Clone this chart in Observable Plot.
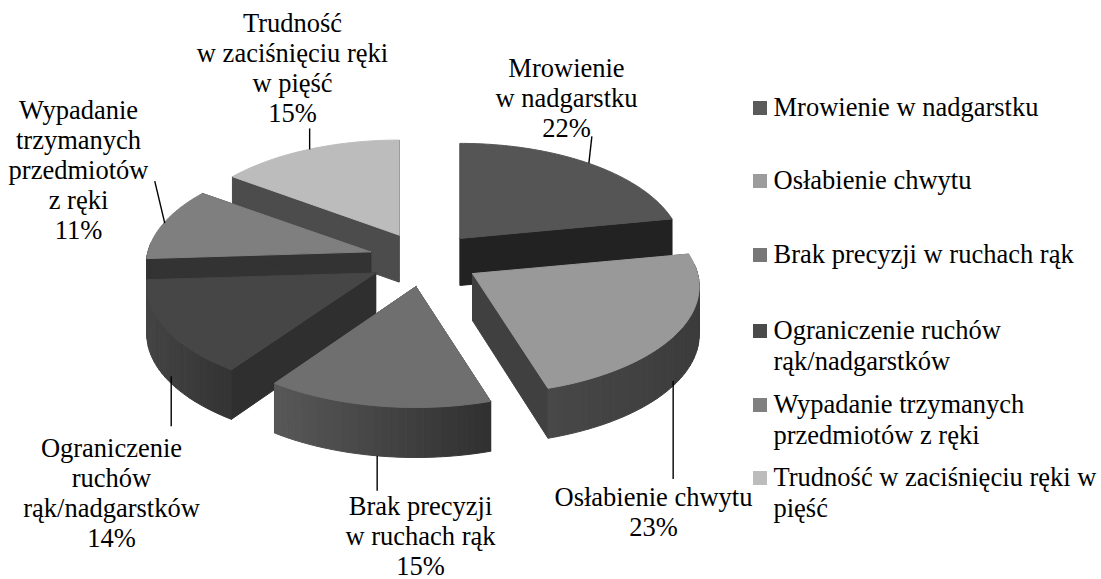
<!DOCTYPE html>
<html><head><meta charset="utf-8">
<style>html,body{margin:0;padding:0;background:#fff}svg{display:block}</style>
<script src="https://cdn.jsdelivr.net/npm/d3@7"></script>
<script src="https://cdn.jsdelivr.net/npm/@observablehq/plot@0.6"></script>
</head><body><script>
// Data
const categories = ["Mrowienie w nadgarstku","Osłabienie chwytu","Brak precyzji w ruchach rąk","Ograniczenie ruchów rąk/nadgarstków","Wypadanie trzymanych przedmiotów z ręki","Trudność w zaciśnięciu ręki w pięść"];
const values = [22, 23.2, 14.5, 14.3, 11, 15];
const sliceLabels = ["Mrowienie\nw nadgarstku\n22%","Osłabienie chwytu\n23%","Brak precyzji\nw ruchach rąk\n15%","Ograniczenie\nruchów\nrąk/nadgarstków\n14%","Wypadanie\ntrzymanych\nprzedmiotów\nz ręki\n11%","Trudność\nw zaciśnięciu ręki\nw pięść\n15%"];
const legendLabels = ["Mrowienie w nadgarstku","Osłabienie chwytu","Brak precyzji w ruchach rąk","Ograniczenie ruchów\nrąk/nadgarstków","Wypadanie trzymanych\nprzedmiotów z ręki","Trudność w zaciśnięciu ręki w\npięść"];
// Shades
const topShades = ["#555555","#999999","#6f6f6f","#464646","#7f7f7f","#bcbcbc"];
const innerShades = ["#222222","#404040","#333333","#2f2f2f","#333333","#4c4c4c"];
const rimLeftShades = ["#222222","#484848","#585858","#444444","#333333","#4c4c4c"];
const rimRightShades = ["#222222","#3c3c3c","#303030","#333333","#333333","#4c4c4c"];
const legendShades = ["#5a5a5a","#9c9c9c","#777777","#4a4a4a","#808080","#bcbcbc"];
// Layout
const W = 1101, H = 579;
const cx = 424, cy = 259, ex = 56, ey = 27.4, rx = 225, ry = 106.4, k = 0.12;
const spread = [0.98, 1, 0.99, 1.01, 0.99, 0.98];
const labelAt = [[566,97],[653,511],[420,535],[111,492],[78,169],[292,67]];
const leaderBase = [[0,0],[-5,49],[0,50],[6,48],[1,0],[1,0]];
const leaderReach = [[3,-27],[0,98],[0,35],[0,50],[-10,-42],[0,-21]];
const legendRowY = [108,181,255,331,405,478];
const legendSwatchX = [753,767], legendTextX = 773, swatch = 14, legendLift = 15;

const rad = d => d * Math.PI / 180;
const total = d3.sum(values);
let run = 0;
const slices = values.map((v, i) => {
  const t0 = run * 360 / total; run += v;
  const t1 = run * 360 / total;
  const mid = rad((t0 + t1) / 2);
  return {i, t0, t1, midDeg: (t0 + t1) / 2, ax: cx + ex * Math.sin(mid), ay: cy - ey * Math.cos(mid)};
});
const depthAt = c => 48 - 2 * c;
function rim(sl, tDeg, down) {
  const t = rad(tDeg), c = Math.cos(t), s = 1 / (1 + k * c);
  return [sl.ax + rx * spread[sl.i] * Math.sin(t) * s, sl.ay - ry * c * s + (down ? depthAt(c) : 0)];
}
const apex = (sl, down) => [sl.ax, sl.ay + (down ? 47 : 0)];

const rows = [];
let zId = 0;
function face(points, fill) {
  const z = zId++;
  [...points, points[0]].forEach(p => rows.push({x: p[0], y: p[1], z, fill}));
}
const drawOrder = [5, 0, 4, 1, 3, 2];
for (const i of drawOrder) {
  const sl = slices[i];
  for (const t of [sl.t0, sl.t1]) face([apex(sl,false), rim(sl,t,false), rim(sl,t,true), apex(sl,true)], innerShades[i]);
  const a = Math.max(sl.t0, 85), b = Math.min(sl.t1, 275);
  const shade = d3.interpolateRgb(rimLeftShades[i], rimRightShades[i]);
  if (b > a) {
    const n = Math.ceil((b - a) / 2);
    for (let j = 0; j < n; j++) {
      const u = a + (b - a) * j / n, w = a + (b - a) * (j + 1) / n;
      const xm = rim(sl, (u + w) / 2, false)[0];
      const ends = [rim(sl,a,false)[0], rim(sl,b,false)[0]];
      const f = (xm - Math.min(...ends)) / (Math.abs(ends[0] - ends[1]) || 1);
      face([rim(sl,u,false), rim(sl,w,false), rim(sl,w,true), rim(sl,u,true)], d3.color(shade(f)).formatHex());
    }
  }
  const arc = [];
  for (let t = sl.t0; t < sl.t1; t += 1) arc.push(rim(sl,t,false));
  arc.push(rim(sl,sl.t1,false));
  face([apex(sl,false), ...arc], topShades[i]);
}

const leaders = slices.map((sl, i) => {
  const p = rim(sl, sl.midDeg, false);
  const x1 = p[0] + leaderBase[i][0], y1 = p[1] + leaderBase[i][1];
  return {x1, y1, x2: x1 + leaderReach[i][0], y2: y1 + leaderReach[i][1]};
});
const labelRows = sliceLabels.map((text, i) => ({text, x: labelAt[i][0], y: labelAt[i][1]}));
const legendRows = categories.map((name, i) => ({name, text: legendLabels[i], y: legendRowY[i], fill: legendShades[i]}));

const font = {fontFamily: "Liberation Serif", fontSize: 26.5, fill: "#000"};
const chart = Plot.plot({
  width: W, height: H, margin: 0,
  x: {domain: [0, W], range: [0, W], axis: null},
  y: {domain: [0, H], range: [0, H], axis: null},
  color: {type: "identity"},
  style: {background: "#fff"},
  marks: [
    Plot.line(rows, {x: "x", y: "y", z: "z", fill: "fill", stroke: "fill", strokeWidth: 1}),
    Plot.link(leaders, {x1: "x1", y1: "y1", x2: "x2", y2: "y2", stroke: "#000", strokeWidth: 1.4}),
    Plot.text(labelRows, {x: "x", y: "y", text: "text", lineHeight: 1.13, ...font}),
    Plot.rect(legendRows, {x1: () => legendSwatchX[0], x2: () => legendSwatchX[1], y1: d => d.y - swatch / 2, y2: d => d.y + swatch / 2, fill: "fill"}),
    Plot.text(legendRows, {x: () => legendTextX, y: d => d.y - legendLift, text: "text", textAnchor: "start", lineAnchor: "top", lineHeight: 1.17, ...font})
  ]
});
document.body.appendChild(chart);
</script></body></html>
